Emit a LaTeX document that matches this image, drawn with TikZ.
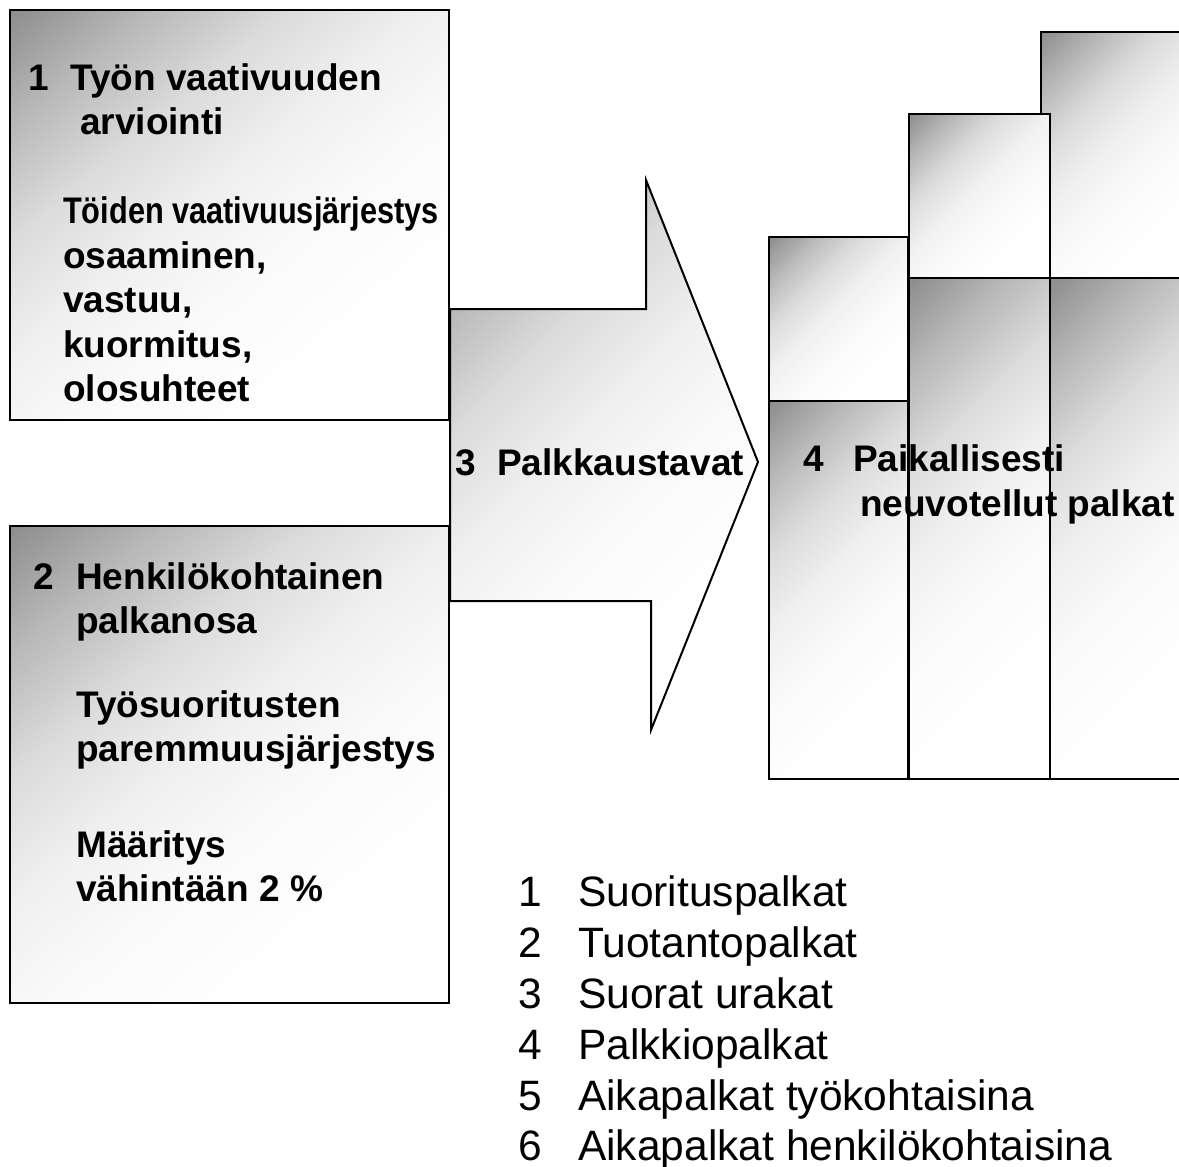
\documentclass[tikz,border=0pt]{standalone}
\usepackage{fontspec}
\setmainfont{Liberation Sans}
\usepackage{graphicx}
\definecolor{gA}{gray}{0.55}
\definecolor{gB}{gray}{0.72}
\definecolor{gC}{gray}{0.86}
\definecolor{gD}{gray}{0.94}
\definecolor{gE}{gray}{0.98}
\pgfdeclareverticalshading{diagshade}{100bp}{color(0bp)=(white); color(28.7bp)=(white); color(42.9bp)=(gE); color(53.5bp)=(gD); color(64.2bp)=(gC); color(74.8bp)=(gB); color(85.4bp)=(gA); color(100bp)=(gA)}
\begin{document}
\begin{tikzpicture}[x=1pt,y=-1pt,
  shadebox/.style={draw=black, line width=2pt, shade, shading=diagshade, shading angle=45},
  cell/.style={shadebox, anchor=north west, inner sep=0pt, outer sep=0pt},
  bt/.style={font=\fontsize{37}{44}\selectfont\bfseries, anchor=base west, inner sep=0pt},
  lt/.style={font=\fontsize{42.5}{51}\selectfont, anchor=base west, inner sep=0pt}]
\useasboundingbox (0,0) rectangle (1179,1167);
% left boxes
\node[cell, shading angle=40, minimum width=439pt, minimum height=410pt] (b1) at (10,10) {};
\node[cell, shading angle=40, minimum width=439pt, minimum height=477pt] (b2) at (10,526) {};
% arrow
\path[shadebox] (450,309) -- (646,309) -- (646,180) -- (758,462)
  -- (651,730) -- (651,601) -- (450,601) -- cycle;
% right stacked cells
\node[cell, minimum width=160pt, minimum height=246pt] (c3t) at (1041,32) {};
\node[cell, minimum width=150pt, minimum height=501pt] (c3b) at (1050,278) {};
\node[cell, minimum width=141pt, minimum height=164pt] (c2t) at (909,114) {};
\node[cell, minimum width=141pt, minimum height=501pt] (c2b) at (909,278) {};
\node[cell, minimum width=139pt, minimum height=164pt] (c1t) at (769,237) {};
\node[cell, minimum width=139pt, minimum height=378pt] (c1b) at (769,401) {};
% box 1 text
\node[bt] (t1n) at (28,90) {1};
\node[bt] (t1a) at (70,90) {Työn vaativuuden};
\node[bt] (t1b) at (80,134.5) {arviointi};
\node[bt] (t1c) at (63,223.5) {\scalebox{0.83}[1]{Töiden vaativuusjärjestys}};
\node[bt] (t1d) at (63,268) {osaaminen,};
\node[bt] (t1e) at (63,312.5) {vastuu,};
\node[bt] (t1f) at (63,357) {kuormitus,};
\node[bt] (t1g) at (63,401.5) {olosuhteet};
% box 2 text
\node[bt] (t2n) at (33,589) {2};
\node[bt] (t2a) at (76,589) {Henkilökohtainen};
\node[bt] (t2b) at (76,633) {palkanosa};
\node[bt] (t2c) at (76,717) {Työsuoritusten};
\node[bt] (t2d) at (76,761) {paremmuusjärjestys};
\node[bt] (t2e) at (76,857) {Määritys};
\node[bt] (t2f) at (76,901) {vähintään 2 \%};
% arrow text
\node[bt] (t3n) at (455,475) {3};
\node[bt] (t3a) at (497,475) {Palkkaustavat};
% right text
\node[bt] (t4n) at (803,471) {4};
\node[bt] (t4a) at (853,471) {Paikallisesti};
\node[bt] (t4b) at (860,516) {neuvotellut palkat};
% legend
\node[lt] (l1n) at (518,906) {1};
\node[lt] (l1) at (578,906) {Suorituspalkat};
\node[lt] (l2n) at (518,957) {2};
\node[lt] (l2) at (578,957) {Tuotantopalkat};
\node[lt] (l3n) at (518,1008) {3};
\node[lt] (l3) at (578,1008) {Suorat urakat};
\node[lt] (l4n) at (518,1059) {4};
\node[lt] (l4) at (578,1059) {Palkkiopalkat};
\node[lt] (l5n) at (518,1110) {5};
\node[lt] (l5) at (578,1110) {Aikapalkat työkohtaisina};
\node[lt] (l6n) at (518,1160) {6};
\node[lt] (l6) at (578,1160) {Aikapalkat henkilökohtaisina};
\end{tikzpicture}
\end{document}
